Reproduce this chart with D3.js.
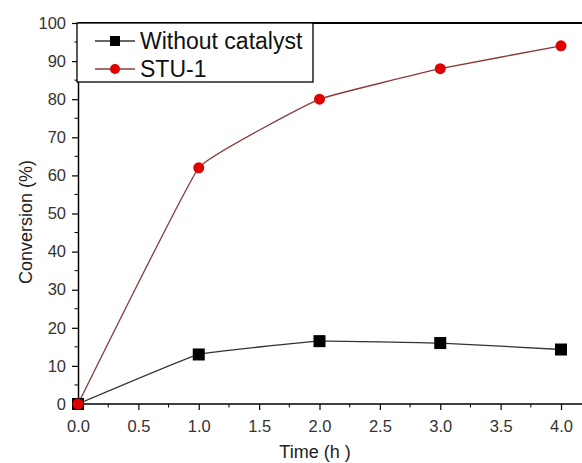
<!DOCTYPE html>
<html>
<head>
<meta charset="utf-8">
<script src="https://cdn.jsdelivr.net/npm/d3@7"></script>
<style>
  body { margin: 0; background: #fff; }
  svg { font-family: "Liberation Sans", Arial, sans-serif; }
</style>
</head>
<body>
<div id="container"></div>
<script>
const times = [0, 1, 2, 3, 4];
const withoutCatalyst = [0, 13, 16.5, 16, 14.3];
const stu1 = [0, 62, 80, 88, 94];
const seriesNames = ["Without catalyst", "STU-1"];
const xTicks = [0, 0.5, 1, 1.5, 2, 2.5, 3, 3.5, 4];
const yTicks = [0, 10, 20, 30, 40, 50, 60, 70, 80, 90, 100];

const width = 582;
const height = 463;

const xScale = d3.scaleLinear().domain([0, 4]).range([78, 561]);
const yScale = d3.scaleLinear().domain([0, 100]).range([404, 23]);

const svg = d3.select("#container")
  .append("svg")
  .attr("width", width)
  .attr("height", height);

// top frame line
svg.append("line")
  .attr("x1", xScale(0)).attr("x2", width)
  .attr("y1", yScale(100)).attr("y2", yScale(100))
  .attr("stroke", "#000").attr("stroke-width", 2);

// x axis
const xAxis = d3.axisBottom(xScale)
  .tickValues(xTicks)
  .tickFormat(d3.format(".1f"))
  .tickSize(6)
  .tickSizeOuter(0);
const gx = svg.append("g")
  .attr("transform", `translate(0, ${yScale(0)})`)
  .call(xAxis);
gx.select(".domain").remove();
gx.append("line")
  .attr("x1", xScale(0)).attr("x2", width)
  .attr("stroke", "#000").attr("stroke-width", 1.5);
gx.selectAll(".tick line").attr("stroke", "#000").attr("stroke-width", 1.2);
gx.selectAll(".tick text").attr("font-size", 16.5).attr("fill", "#333").attr("dy", "1.15em");
// minor x ticks
gx.selectAll(".minor")
  .data(xTicks.slice(0, -1).map(d => d + 0.25).concat([4.25]))
  .enter().append("line")
  .attr("x1", d => xScale(d)).attr("x2", d => xScale(d))
  .attr("y1", 0).attr("y2", 3.5)
  .attr("stroke", "#000").attr("stroke-width", 1);

// y axis
const yAxis = d3.axisLeft(yScale)
  .tickValues(yTicks)
  .tickSize(6)
  .tickSizeOuter(0);
const gy = svg.append("g")
  .attr("transform", `translate(${xScale(0)}, 0)`)
  .call(yAxis);
gy.select(".domain").attr("stroke", "#000").attr("stroke-width", 1.5);
gy.selectAll(".tick line").attr("stroke", "#000").attr("stroke-width", 1.2);
gy.selectAll(".tick text").attr("font-size", 16.5).attr("fill", "#333").attr("x", -12);
gy.selectAll(".minor")
  .data(yTicks.slice(0, -1).map(d => d + 5))
  .enter().append("line")
  .attr("x1", 0).attr("x2", -3.5)
  .attr("y1", d => yScale(d)).attr("y2", d => yScale(d))
  .attr("stroke", "#000").attr("stroke-width", 1);

// axis titles
svg.append("text")
  .attr("x", 315)
  .attr("y", 458)
  .attr("text-anchor", "middle")
  .attr("font-size", 18)
  .attr("fill", "#222")
  .text("Time (h )");

svg.append("text")
  .attr("transform", `translate(32, 222) rotate(-90)`)
  .attr("text-anchor", "middle")
  .attr("font-size", 18)
  .attr("fill", "#222")
  .text("Conversion (%)");

// lines
const line = d3.line()
  .x((d, i) => xScale(times[i]))
  .y(d => yScale(d))
  .curve(d3.curveCardinal.tension(0.75));

svg.append("path")
  .datum(withoutCatalyst)
  .attr("d", line)
  .attr("fill", "none")
  .attr("stroke", "#333")
  .attr("stroke-width", 1.3);

svg.append("path")
  .datum(stu1)
  .attr("d", line)
  .attr("fill", "none")
  .attr("stroke", "#8a3a3a")
  .attr("stroke-width", 1.3);

// markers
svg.selectAll(".sq")
  .data(withoutCatalyst)
  .enter().append("rect")
  .attr("x", (d, i) => xScale(times[i]) - 6)
  .attr("y", d => yScale(d) - 6)
  .attr("width", 12).attr("height", 12)
  .attr("fill", "#000");

svg.selectAll(".ci")
  .data(stu1)
  .enter().append("circle")
  .attr("cx", (d, i) => xScale(times[i]))
  .attr("cy", d => yScale(d))
  .attr("r", 5.5)
  .attr("fill", "#e00000");

// legend
svg.append("rect")
  .attr("x", 77).attr("y", 23)
  .attr("width", 236).attr("height", 59)
  .attr("fill", "#fff")
  .attr("stroke", "#000")
  .attr("stroke-width", 1.3);

const legendRows = [
  { name: seriesNames[0], color: "#000", lineColor: "#333", shape: "square", y: 41 },
  { name: seriesNames[1], color: "#e00000", lineColor: "#8a3a3a", shape: "circle", y: 69 }
];
const lg = svg.selectAll(".lg")
  .data(legendRows)
  .enter().append("g");
lg.append("line")
  .attr("x1", 95).attr("x2", 135)
  .attr("y1", d => d.y).attr("y2", d => d.y)
  .attr("stroke", d => d.lineColor)
  .attr("stroke-width", 1.3);
lg.filter(d => d.shape === "square").append("rect")
  .attr("x", 110).attr("y", d => d.y - 5)
  .attr("width", 10).attr("height", 10)
  .attr("fill", d => d.color);
lg.filter(d => d.shape === "circle").append("circle")
  .attr("cx", 115).attr("cy", d => d.y)
  .attr("r", 5)
  .attr("fill", d => d.color);
lg.append("text")
  .attr("x", 140)
  .attr("y", d => d.y + 8)
  .attr("font-size", 23)
  .attr("fill", "#111")
  .text(d => d.name);
</script>
</body>
</html>
